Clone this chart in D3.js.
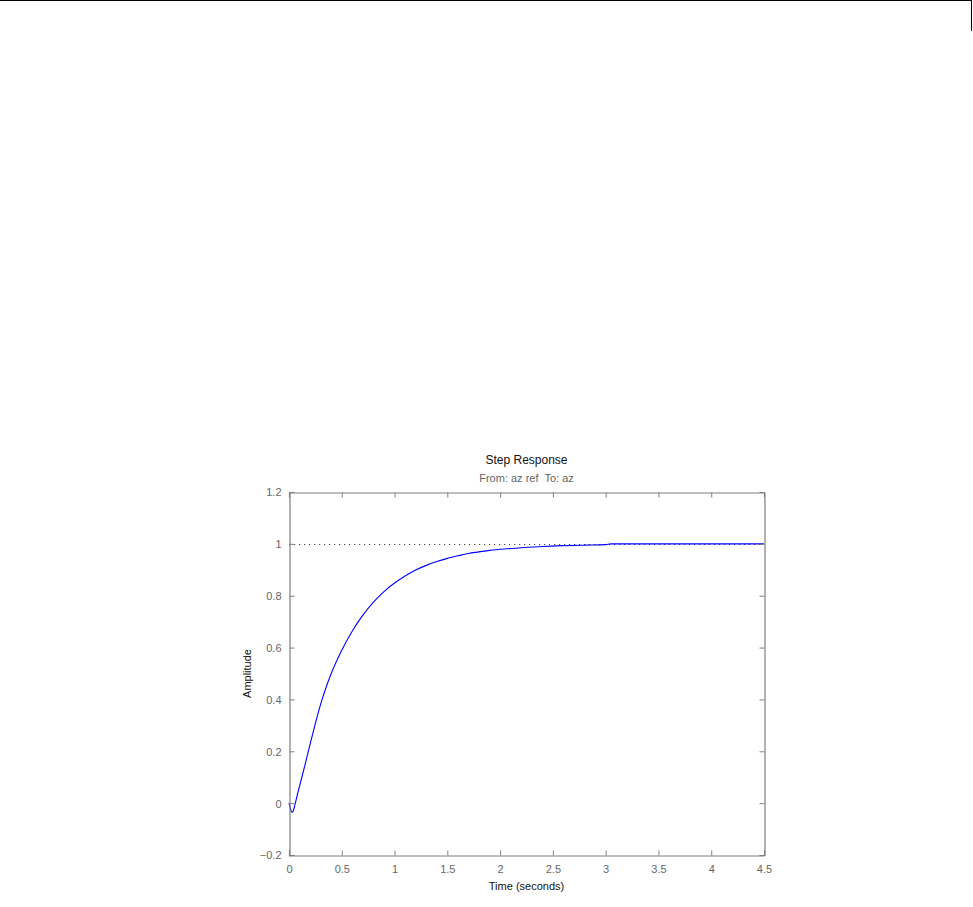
<!DOCTYPE html>
<html>
<head>
<meta charset="utf-8">
<script src="https://cdn.jsdelivr.net/npm/d3@7"></script>
<style>
  body { margin: 0; background: #fff; }
  svg { display: block; font-family: "Liberation Sans", Arial, sans-serif; }
</style>
</head>
<body>
<div id="chart"></div>
<script>
// Step response samples
var time = [0, 0.01, 0.02, 0.03, 0.04, 0.05, 0.06, 0.08, 0.1, 0.12, 0.15, 0.2, 0.25, 0.3, 0.35, 0.4,
            0.5, 0.6, 0.7, 0.8, 0.9, 1.0, 1.1, 1.2, 1.3, 1.4, 1.5, 1.6, 1.7, 1.8, 1.9, 2.0, 2.2,
            2.4, 2.6, 2.8, 3.0, 3.05, 4.5];
var amplitude = [0, -0.015, -0.03, -0.035, -0.03, -0.016, 0.0, 0.034, 0.066, 0.097, 0.145, 0.228, 0.308, 0.382, 0.445, 0.50,
                 0.59, 0.664, 0.725, 0.775, 0.816, 0.849, 0.876, 0.899, 0.917, 0.932, 0.944, 0.954, 0.963, 0.969, 0.975, 0.979, 0.985,
                 0.99, 0.993, 0.995, 0.997, 1.0, 1.0];
var finalValue = 1;

var xTicks = [0, 0.5, 1, 1.5, 2, 2.5, 3, 3.5, 4, 4.5];
var yTicks = [-0.2, 0, 0.2, 0.4, 0.6, 0.8, 1, 1.2];

var titleText = "Step Response";
var subTitleText = "From: az ref  To: az";
var xLabel = "Time (seconds)";
var yLabel = "Amplitude";

function init(){
    var w = 973;
    var h = 907;

    // plot box
    var left = 289, right = 764, top = 492, bottom = 855;
    var axisColor = "#7f7f7f";

    var xScale = d3.scaleLinear().domain([0, 4.5]).range([left, right]);
    var yScale = d3.scaleLinear().domain([-0.2, 1.2]).range([bottom, top]);

    var svg = d3.select("#chart")
                .append("svg")
                .attr("width", w)
                .attr("height", h);

    // window frame at the top
    svg.append("line")
        .attr("x1", 0).attr("x2", 972).attr("y1", 0.5).attr("y2", 0.5)
        .attr("stroke", "#000");
    svg.append("line")
        .attr("x1", 971.5).attr("x2", 971.5).attr("y1", 0).attr("y2", 31)
        .attr("stroke", "#000");

    // final value reference (dotted)
    svg.append("line")
        .attr("x1", xScale(0)).attr("x2", xScale(4.5))
        .attr("y1", Math.round(yScale(finalValue)) + 0.5)
        .attr("y2", Math.round(yScale(finalValue)) + 0.5)
        .attr("stroke", "#444")
        .attr("stroke-dasharray", "1.2,3.8");

    // response curve
    var line = d3.line()
        .x(function(d, i){ return xScale(time[i]); })
        .y(function(d){ return yScale(d); })
        .curve(d3.curveMonotoneX);

    svg.append("path")
        .datum(amplitude)
        .attr("d", line)
        .attr("fill", "none")
        .attr("stroke", "#0000ff")
        .attr("stroke-width", 1.1);

    // axes, ticks on all four sides like a matlab box
    var fmt = function(d){ return d3.format("")(+d.toFixed(1)); };

    var xBottom = svg.append("g")
        .attr("transform", "translate(0," + (bottom + 0.5) + ")")
        .call(d3.axisBottom(xScale).tickValues(xTicks).tickSize(-5).tickPadding(10).tickFormat(fmt));
    var xTop = svg.append("g")
        .attr("transform", "translate(0," + (top + 0.5) + ")")
        .call(d3.axisTop(xScale).tickValues(xTicks).tickSize(-5).tickFormat(""));
    var yLeft = svg.append("g")
        .attr("transform", "translate(" + (left + 0.5) + ",0)")
        .call(d3.axisLeft(yScale).tickValues(yTicks).tickSize(-5).tickPadding(8).tickFormat(fmt));
    var yRight = svg.append("g")
        .attr("transform", "translate(" + (right + 0.5) + ",0)")
        .call(d3.axisRight(yScale).tickValues(yTicks).tickSize(-5).tickFormat(""));

    [xBottom, xTop, yLeft, yRight].forEach(function(g){
        g.select(".domain").attr("stroke", axisColor).attr("stroke-width", 1.2);
        g.selectAll(".tick line").attr("stroke", axisColor);
        g.selectAll(".tick text")
            .attr("fill", "#666")
            .style("font-size", "11px")
            .style("font-family", "Liberation Sans, Arial, sans-serif");
    });
    // matlab box has no outer tick at the ends of the domain
    [xBottom, xTop, yLeft, yRight].forEach(function(g){
        g.select(".domain").attr("d", function(){
            return d3.select(this).attr("d").replace(/V-?5|H-?5/g, "");
        });
    });
    yLeft.selectAll(".tick text").attr("dy", "0.35em");

    // titles
    svg.append("text")
        .attr("x", (left + right) / 2)
        .attr("y", 464)
        .attr("text-anchor", "middle")
        .style("font-size", "12px")
        .attr("fill", "#111")
        .text(titleText);

    svg.append("text")
        .attr("x", (left + right) / 2)
        .attr("y", 482)
        .attr("text-anchor", "middle")
        .style("font-size", "11px")
        .style("white-space", "pre")
        .attr("fill", "#666")
        .text(subTitleText);

    svg.append("text")
        .attr("x", (left + right) / 2)
        .attr("y", 890)
        .attr("text-anchor", "middle")
        .style("font-size", "11px")
        .attr("fill", "#111")
        .text(xLabel);

    svg.append("text")
        .attr("transform", "translate(251," + ((top + bottom) / 2) + ") rotate(-90)")
        .attr("text-anchor", "middle")
        .style("font-size", "11px")
        .attr("fill", "#111")
        .text(yLabel);
}
window.onload = init;
</script>
</body>
</html>
